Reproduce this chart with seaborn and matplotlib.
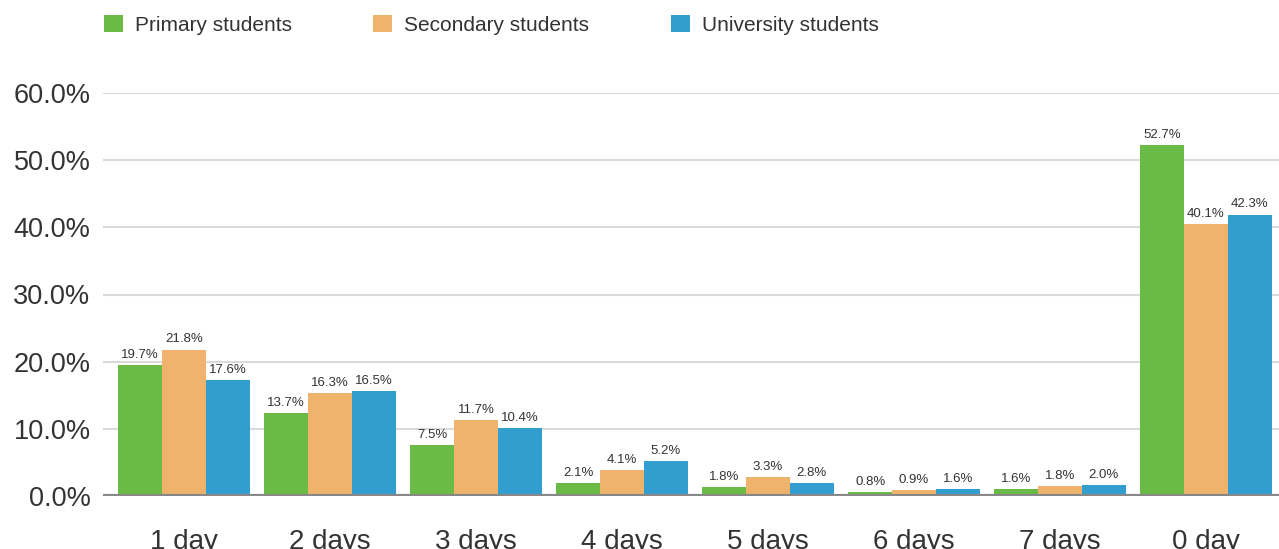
import numpy as np
import pandas as pd
import matplotlib.pyplot as plt
import seaborn as sns
from matplotlib.patches import Patch

# categories and series (bar heights, labels as printed)
days = ["1 day", "2 days", "3 days", "4 days", "5 days", "6 days", "7 days", "0 day"]
groups = ["Primary students", "Secondary students", "University students"]

primary = [19.5, 12.4, 7.6, 1.9, 1.3, 0.6, 1.0, 52.2]
secondary = [21.8, 15.3, 11.3, 3.9, 2.8, 0.9, 1.5, 40.5]
university = [17.3, 15.6, 10.1, 5.2, 1.9, 1.0, 1.6, 41.9]

primary_lbl = ["19.7%", "13.7%", "7.5%", "2.1%", "1.8%", "0.8%", "1.6%", "52.7%"]
secondary_lbl = ["21.8%", "16.3%", "11.7%", "4.1%", "3.3%", "0.9%", "1.8%", "40.1%"]
university_lbl = ["17.6%", "16.5%", "10.4%", "5.2%", "2.8%", "1.6%", "2.0%", "42.3%"]

yticks = [0, 10, 20, 30, 40, 50, 60]
colors = ["#6abb45", "#efb36c", "#329ecf"]

df = pd.DataFrame({
    "day": days * 3,
    "group": np.repeat(groups, len(days)),
    "value": primary + secondary + university,
})

sns.set_style("white")
plt.rcParams["font.family"] = ["Liberation Sans", "DejaVu Sans"]

fig = plt.figure(figsize=(12.79, 5.49), dpi=100)
ax = fig.add_axes([103 / 1279, 53 / 549, 1 - 103 / 1279, 403 / 549])

sns.barplot(data=df, x="day", y="value", hue="group", order=days, hue_order=groups,
            palette=colors, width=0.9, gap=0, saturation=1, legend=False, ax=ax,
            zorder=3, linewidth=0)

for cont, lbls in zip(ax.containers, [primary_lbl, secondary_lbl, university_lbl]):
    ax.bar_label(cont, labels=lbls, padding=3, fontsize=9.5, color="#333333")

ax.set_ylim(0, 60)
ax.set_xlim(-0.555, 7.5)
ax.set_yticks(yticks)
ax.set_yticklabels([f"{t:.1f}%" for t in yticks])
ax.yaxis.grid(True, color="#dadada", linewidth=1.5, zorder=0)
ax.set_axisbelow(True)
ax.axhline(0, color="#888888", linewidth=3, zorder=4)

for s in ax.spines.values():
    s.set_visible(False)

ax.tick_params(axis="y", length=0, pad=9, labelsize=19.5, labelcolor="#333333")
ax.tick_params(axis="x", length=0, pad=24, labelsize=20, labelcolor="#333333")
ax.set_xlabel("")
ax.set_ylabel("")

handles = [Patch(facecolor=c, edgecolor="none") for c in colors]
fig.legend(handles, groups, loc="upper left", bbox_to_anchor=(85 / 1279, 1 + 4 / 549),
           ncol=3, frameon=False, fontsize=15, handlelength=0.9, handleheight=0.9,
           handletextpad=0.6, columnspacing=3.9, labelcolor="#333333")

fig.savefig("out.png", dpi=100)
